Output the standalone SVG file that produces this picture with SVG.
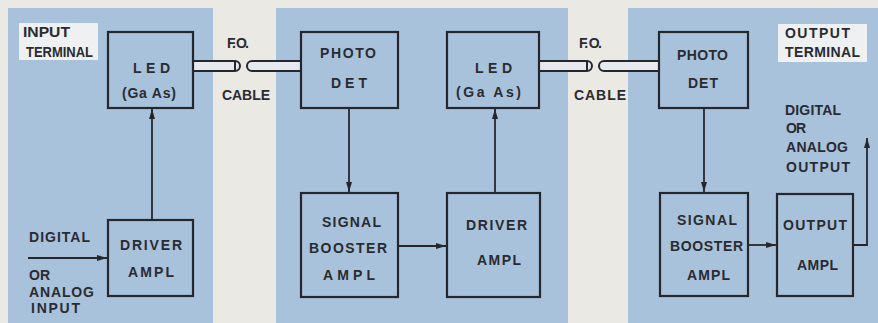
<svg xmlns="http://www.w3.org/2000/svg" width="878" height="323" viewBox="0 0 878 323">
<defs>
<style>
.panel{fill:#a8c2dc}
.box{fill:#a8c2dc;stroke:#26272c;stroke-width:2.2}
.lbl{fill:#eef0f1}
text{font-family:"Liberation Sans",Arial,sans-serif;font-weight:bold;font-size:14px;fill:#2a2b30}
.c{fill:none;stroke:#26272c;stroke-width:1.8}
.tube{fill:#e6eaee;stroke:#26272c;stroke-width:2}
</style>
<marker id="ah" markerUnits="userSpaceOnUse" markerWidth="11" markerHeight="7" refX="10" refY="3.5" orient="auto">
<path d="M0,0.5 L10,3.5 L0,6.5 Z" fill="#26272c"/>
</marker>
</defs>
<rect x="0" y="0" width="878" height="323" fill="#ebe9e4"/>
<rect class="panel" x="8" y="8" width="205" height="315"/>
<rect class="panel" x="276" y="8" width="292" height="315"/>
<rect class="panel" x="628" y="8" width="250" height="315"/>

<g id="input-terminal-label">
<rect class="lbl" x="19" y="23" width="79" height="37"/>
<text x="23" y="37" textLength="47" lengthAdjust="spacingAndGlyphs">INPUT</text>
<text x="26" y="57" textLength="67" lengthAdjust="spacingAndGlyphs">TERMINAL</text>
</g>
<g id="output-terminal-label">
<rect class="lbl" x="778" y="24" width="89" height="38"/>
<text x="785" y="38" textLength="65" lengthAdjust="spacing">OUTPUT</text>
<text x="785" y="57" textLength="75" lengthAdjust="spacing">TERMINAL</text>
</g>

<g id="fiber1">
<path class="tube" d="M193,61 L235,61 A5,5 0 0 1 235,71 L193,71 Z"/>
<line x1="235" y1="61" x2="235" y2="71" stroke="#26272c" stroke-width="2"/>
<path class="tube" d="M301,61 L252,61 A5,5 0 0 0 252,71 L301,71"/>
<text x="227" y="48" textLength="22" lengthAdjust="spacing">F. O.</text>
<text x="222" y="100" textLength="48" lengthAdjust="spacing">CABLE</text>
</g>
<g id="fiber2">
<path class="tube" d="M539,61 L587,61 A5,5 0 0 1 587,71 L539,71 Z"/>
<line x1="587" y1="61" x2="587" y2="71" stroke="#26272c" stroke-width="2"/>
<path class="tube" d="M659,61 L604,61 A5,5 0 0 0 604,71 L659,71"/>
<text x="579" y="48" textLength="23" lengthAdjust="spacing">F. O.</text>
<text x="574" y="100" textLength="52" lengthAdjust="spacing">CABLE</text>
</g>

<g id="led1">
<rect class="box" x="108" y="32" width="85" height="76"/>
<text x="133" y="73" textLength="37" lengthAdjust="spacing">LED</text>
<text x="122" y="98" textLength="54" lengthAdjust="spacing">(Ga As)</text>
</g>
<g id="driver1">
<rect class="box" x="108" y="220" width="85" height="76"/>
<text x="120" y="250" textLength="62" lengthAdjust="spacing">DRIVER</text>
<text x="128" y="277" textLength="46" lengthAdjust="spacing">AMPL</text>
</g>
<g id="input-label">
<text x="29" y="242" textLength="61" lengthAdjust="spacing">DIGITAL</text>
<text x="29" y="280" textLength="21" lengthAdjust="spacing">OR</text>
<text x="29" y="297" textLength="65" lengthAdjust="spacing">ANALOG</text>
<text x="31" y="313" textLength="49" lengthAdjust="spacing">INPUT</text>
</g>

<g id="photodet2">
<rect class="box" x="301" y="32" width="97" height="76"/>
<text x="320" y="58" textLength="56" lengthAdjust="spacing">PHOTO</text>
<text x="331" y="88" textLength="36" lengthAdjust="spacing">DET</text>
</g>
<g id="led2">
<rect class="box" x="447" y="32" width="92" height="76"/>
<text x="475" y="73" textLength="37" lengthAdjust="spacing">LED</text>
<text x="456" y="97" textLength="65" lengthAdjust="spacing">(Ga As)</text>
</g>
<g id="booster2">
<rect class="box" x="301" y="193" width="97" height="104"/>
<text x="322" y="227" textLength="59" lengthAdjust="spacing">SIGNAL</text>
<text x="309" y="253" textLength="78" lengthAdjust="spacing">BOOSTER</text>
<text x="323" y="280" textLength="52" lengthAdjust="spacing">AMPL</text>
</g>
<g id="driver2">
<rect class="box" x="447" y="193" width="93" height="104"/>
<text x="466" y="230" textLength="61" lengthAdjust="spacing">DRIVER</text>
<text x="477" y="265" textLength="44" lengthAdjust="spacing">AMPL</text>
</g>

<g id="photodet3">
<rect class="box" x="659" y="32" width="89" height="76"/>
<text x="677" y="60" textLength="51" lengthAdjust="spacing">PHOTO</text>
<text x="688" y="88" textLength="30" lengthAdjust="spacing">DET</text>
</g>
<g id="booster3">
<rect class="box" x="660" y="193" width="88" height="103"/>
<text x="677" y="225" textLength="60" lengthAdjust="spacing">SIGNAL</text>
<text x="670" y="251" textLength="73" lengthAdjust="spacing">BOOSTER</text>
<text x="687" y="280" textLength="43" lengthAdjust="spacing">AMPL</text>
</g>
<g id="output-ampl">
<rect class="box" x="777" y="194" width="76" height="102"/>
<text x="783" y="230" textLength="64" lengthAdjust="spacing">OUTPUT</text>
<text x="797" y="270" textLength="41" lengthAdjust="spacing">AMPL</text>
</g>
<g id="output-label">
<text x="785" y="115" textLength="56" lengthAdjust="spacing">DIGITAL</text>
<text x="786" y="133" textLength="20" lengthAdjust="spacing">OR</text>
<text x="786" y="152" textLength="62" lengthAdjust="spacing">ANALOG</text>
<text x="786" y="172" textLength="64" lengthAdjust="spacing">OUTPUT</text>
</g>

<g id="connectors">
<line class="c" x1="28" y1="258" x2="107" y2="258" marker-end="url(#ah)"/>
<line class="c" x1="152" y1="220" x2="152" y2="109" marker-end="url(#ah)"/>
<line class="c" x1="349" y1="108" x2="349" y2="192" marker-end="url(#ah)"/>
<line class="c" x1="398" y1="246" x2="446" y2="246" marker-end="url(#ah)"/>
<line class="c" x1="495" y1="193" x2="495" y2="109" marker-end="url(#ah)"/>
<line class="c" x1="704" y1="108" x2="704" y2="192" marker-end="url(#ah)"/>
<line class="c" x1="748" y1="245" x2="776" y2="245" marker-end="url(#ah)"/>
<path class="c" d="M853,245 L867,245 L867,138" marker-end="url(#ah)"/>
</g>
</svg>
